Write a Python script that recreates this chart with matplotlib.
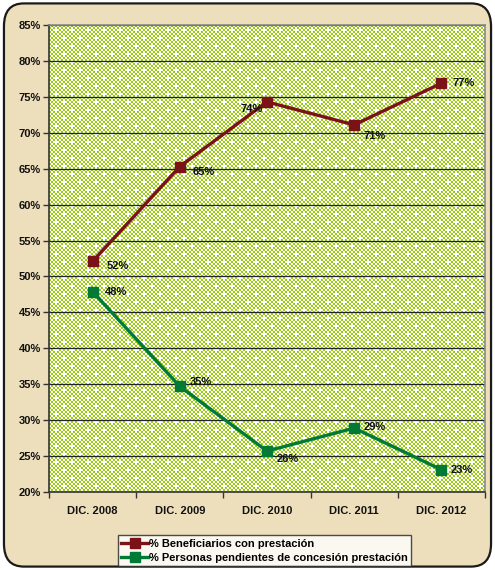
import matplotlib
matplotlib.use("Agg")
import numpy as np
import matplotlib.pyplot as plt
from matplotlib.patches import FancyBboxPatch
from matplotlib.ticker import FixedLocator, PercentFormatter
from matplotlib.colors import to_rgb

plt.rcParams['font.family'] = ['Liberation Sans', 'DejaVu Sans']

categories = ["DIC. 2008", "DIC. 2009", "DIC. 2010", "DIC. 2011", "DIC. 2012"]
beneficiarios = [52.1, 65.3, 74.3, 71.1, 76.9]
pendientes = [47.9, 34.7, 25.7, 28.9, 23.1]
label_benef = ["52%", "65%", "74%", "71%", "77%"]
label_pend = ["48%", "35%", "26%", "29%", "23%"]
series_names = ["% Beneficiarios con prestación",
                "% Personas pendientes de concesión prestación"]

RED = "#7A1218"
GREEN = "#007A35"

fig = plt.figure(figsize=(4.95, 5.70), dpi=100)
fig.patch.set_facecolor("white")
bg = FancyBboxPatch((0.008, 0.006), 0.984, 0.988,
                    boxstyle="round,pad=0,rounding_size=0.04",
                    transform=fig.transFigure, facecolor="#EDDFBB",
                    edgecolor="#1a1a1a", linewidth=1.6, zorder=-10)
fig.patches.append(bg)

# axes: left 49px, right 485px, top 25px, bottom 492px
W, H = 495.0, 570.0
AW, AH = 436, 467
ax = fig.add_axes([49 / W, 1 - 492 / H, AW / W, AH / H])
ax.set_facecolor("#C5E06C")

# decorative textured background (checkerboard with white crosses)
nr, nc = AH // 2 + 2, AW // 2 + 2
ii, jj = np.mgrid[0:nr, 0:nc]
white = ((ii + jj) % 2 == 0)
cross_c = ((ii % 4 == 2) & (((jj + 4 * ((ii // 4) % 2)) % 8) == 3))
cr = cross_c.copy()
cr[1:, :] |= cross_c[:-1, :]
cr[:-1, :] |= cross_c[1:, :]
cr[:, 1:] |= cross_c[:, :-1]
cr[:, :-1] |= cross_c[:, 1:]
white = white | cr
cells = np.kron(white.astype(int), np.ones((2, 2), dtype=int))[:AH, :AW]
g = np.array(to_rgb("#9CCB14"))
img = np.where(cells[..., None] == 1, np.ones(3), g)
ax.imshow(img, extent=[-0.5, 4.5, 20, 85], aspect="auto",
          interpolation="nearest", zorder=0)

x = list(range(len(categories)))
ax.plot(x, beneficiarios, color=RED, lw=2.4, marker="s", ms=6.5,
        markeredgecolor=RED, label=series_names[0], zorder=5)
ax.plot(x, pendientes, color=GREEN, lw=2.4, marker="s", ms=6.5,
        markeredgecolor=GREEN, label=series_names[1], zorder=5)

off_b = [(10, -3), (9, -4), (-3, -5), (7, -8), (8, 0)]
off_p = [(9, 0), (7, 3), (7, -6), (7, 1), (7, 0)]
for i, (v, t) in enumerate(zip(beneficiarios, label_benef)):
    dx, dy = off_b[i]
    ax.annotate(t, (i, v), xytext=(dx, dy), textcoords="offset points",
                ha="right" if dx < 0 else "left", va="center",
                fontsize=8, fontweight="bold", color="#111111", zorder=6)
for i, (v, t) in enumerate(zip(pendientes, label_pend)):
    dx, dy = off_p[i]
    ax.annotate(t, (i, v), xytext=(dx, dy), textcoords="offset points",
                ha="left", va="center",
                fontsize=8, fontweight="bold", color="#111111", zorder=6)

ax.set_xlim(-0.5, 4.5)
ax.set_ylim(20, 85)
ax.set_yticks(range(20, 86, 5))
ax.yaxis.set_major_formatter(PercentFormatter(decimals=0))
ax.grid(axis="y", color="#222222", lw=0.9, zorder=1)
ax.set_axisbelow(True)

ax.set_xticks(x)
ax.set_xticklabels(categories)
ax.xaxis.set_minor_locator(FixedLocator([-0.5, 0.5, 1.5, 2.5, 3.5, 4.5]))
ax.tick_params(axis="x", which="major", length=0, pad=10)
ax.tick_params(axis="x", which="minor", length=4, width=1, color="#333333")
ax.tick_params(axis="y", length=4, width=1, color="#333333", pad=2)
for lab in ax.get_xticklabels() + ax.get_yticklabels():
    lab.set_fontweight("bold")
    lab.set_fontsize(8)
    lab.set_color("#111111")

for s in ["left", "bottom"]:
    ax.spines[s].set_color("#333333")
    ax.spines[s].set_linewidth(1.2)
for s in ["top", "right"]:
    ax.spines[s].set_color("#8a8a8a")
    ax.spines[s].set_linewidth(1.2)

leg = fig.legend(loc="lower left", bbox_to_anchor=(118 / W, 1 - 566 / H),
                 frameon=True, fancybox=False, fontsize=8,
                 prop={"weight": "bold", "size": 8}, handlelength=2.4,
                 handletextpad=0.1, borderpad=0.3, labelspacing=0.35,
                 borderaxespad=0)
leg.get_frame().set_edgecolor("#222222")
leg.get_frame().set_linewidth(1.0)
leg.get_frame().set_facecolor("white")

fig.savefig("out.png", dpi=100)
